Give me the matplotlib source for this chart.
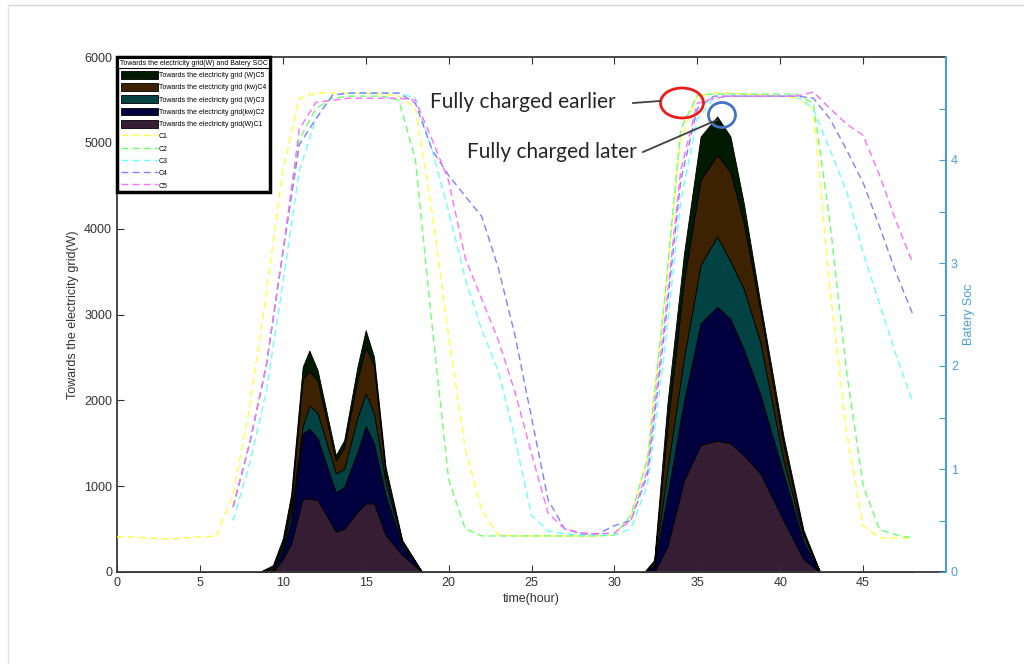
import numpy as np
import matplotlib
matplotlib.use('Agg')
import matplotlib.pyplot as plt
from matplotlib.patches import Ellipse, Patch
from matplotlib.lines import Line2D

plt.rcParams['font.family'] = ['Liberation Sans', 'DejaVu Sans']

# Battery SOC per household, hourly (right axis)
hours = np.arange(0, 49)
nan = np.nan
soc_c1 = [0.34, 0.34, 0.33, 0.32, 0.33, 0.34, 0.35, 0.75, 1.6, 2.7, 3.9, 4.6, 4.65, 4.65, 4.65, 4.65, 4.64, 4.62, 4.5,
          3.5, 2.3, 1.2, 0.6, 0.36, 0.35, 0.35, 0.35, 0.35, 0.35, 0.35, 0.36, 0.55, 1.1, 2.6, 4.2, 4.62, 4.65, 4.65,
          4.64, 4.63, 4.62, 4.6, 4.5, 2.75, 1.36, 0.45, 0.33, 0.33, 0.33]
soc_c2 = [nan] * 7 + [0.63, 1.25, 2.0, 3.1, 4.2, 4.5, 4.6, 4.62, 4.62, 4.62, 4.58, 4.0, 2.4, 0.9, 0.42, 0.35,
                      0.35, 0.35, 0.35, 0.35, 0.35, 0.35, 0.35, 0.36, 0.55, 1.1, 2.6, 4.3, 4.63, 4.64, 4.64, 4.64,
                      4.64, 4.64, 4.64, 4.55, 3.4, 1.95, 0.84, 0.41, 0.36, 0.33]
soc_c3 = [nan] * 7 + [0.5, 1.05, 1.75, 2.8, 3.9, 4.4, 4.63, 4.65, 4.65, 4.65, 4.65, 4.6, 4.1, 3.5, 2.85, 2.35,
                      1.95, 1.3, 0.55, 0.4, 0.37, 0.36, 0.36, 0.36, 0.42, 0.85, 2.1, 3.6, 4.4, 4.6, 4.62, 4.62,
                      4.62, 4.62, 4.62, 4.5, 4.1, 3.7, 3.1, 2.6, 2.1, 1.65]
soc_c4 = [nan] * 7 + [0.63, 1.25, 2.0, 3.1, 4.15, 4.4, 4.63, 4.65, 4.65, 4.65, 4.65, 4.55, 4.1, 3.85, 3.65, 3.45,
                      2.95, 2.3, 1.5, 0.7, 0.42, 0.37, 0.37, 0.45, 0.5, 0.95, 2.3, 3.8, 4.5, 4.62, 4.62, 4.62,
                      4.62, 4.62, 4.62, 4.6, 4.4, 4.1, 3.78, 3.35, 2.9, 2.5]
soc_c5 = [nan] * 7 + [0.63, 1.25, 2.0, 3.1, 4.3, 4.56, 4.58, 4.6, 4.6, 4.6, 4.6, 4.58, 4.2, 3.8, 3.05, 2.65,
                      2.25, 1.75, 1.15, 0.57, 0.42, 0.38, 0.37, 0.38, 0.5, 1.0, 2.4, 3.9, 4.55, 4.6, 4.62, 4.62,
                      4.62, 4.62, 4.62, 4.66, 4.5, 4.35, 4.24, 3.85, 3.4, 3.0]

# Power towards the grid, stacked per household (left axis)
t_power = [0, 8.6, 9.4, 10.0, 10.5, 11.2, 11.6, 12.1, 13.2, 13.7, 14.5, 15.0, 15.5, 16.2, 17.2, 18.4,
           31.8, 32.4, 33.2, 34.2, 35.2, 36.2, 37.0, 37.8, 38.8, 40.2, 41.4, 42.4, 48]
grid_c1 = [0, 0, 0, 150, 330, 855, 855, 840, 470, 505, 700, 800, 800, 430, 200, 0,
           0, 0, 300, 1070, 1480, 1530, 1500, 1360, 1150, 600, 150, 0, 0]
grid_c2 = [0, 0, 20, 100, 270, 755, 815, 720, 460, 485, 700, 900, 700, 470, 110, 0,
           0, 60, 600, 930, 1420, 1560, 1450, 1240, 920, 550, 200, 0, 0]
grid_c3 = [0, 0, 20, 40, 100, 90, 270, 290, 220, 210, 400, 380, 350, 150, 30, 0,
           0, 20, 300, 500, 680, 820, 670, 700, 610, 150, 70, 0, 0]
grid_c4 = [0, 0, 20, 50, 100, 550, 400, 380, 150, 250, 450, 540, 550, 100, 15, 0,
           0, 30, 500, 900, 990, 950, 1040, 770, 370, 180, 40, 0, 0]
grid_c5 = [0, 0, 20, 50, 100, 140, 240, 120, 60, 85, 140, 197, 106, 74, 18, 0,
           0, 30, 270, 315, 504, 447, 414, 230, 85, 97, 30, 0, 0]

area_colors = ['#351d34', '#00003f', '#034242', '#3d2202', '#011a02']
line_colors = ['#ffff40', '#70ff70', '#70ffff', '#8080ff', '#ff70ff']
area_labels = ['Towards the electricity grid(W)C1', 'Towards the electricity grid(kw)C2',
               'Towards the electricity grid (W)C3', 'Towards the electricity grid (kw)C4',
               'Towards the electricity grid (W)C5']
line_labels = ['C1', 'C2', 'C3', 'C4', 'C5']
blue = '#4a9fd8'
txt = '#333333'

fig = plt.figure(figsize=(10.24, 6.64), dpi=100)
ax1 = fig.add_axes([117 / 1024, 1 - 572 / 664, 829 / 1024, 515 / 664])

ax1.stackplot(t_power, grid_c1, grid_c2, grid_c3, grid_c4, grid_c5,
              colors=area_colors, edgecolor='black', linewidth=0.6)
ax1.set_xlim(0, 50)
ax1.set_ylim(0, 6000)
ax1.set_xticks(np.arange(0, 50, 5))
ax1.set_yticks(np.arange(0, 7000, 1000))
ax1.tick_params(direction='in', top=True, length=5, labelsize=9, colors=txt)
ax1.set_xlabel('time(hour)', fontsize=9, color=txt, labelpad=3)
ax1.set_ylabel('Towards the electricity grid(W)', fontsize=9, color=txt)
for s in ax1.spines.values():
    s.set_color('#3a3a3a')
    s.set_linewidth(1.3)

ax2 = ax1.twinx()
for soc, c in zip([soc_c1, soc_c2, soc_c3, soc_c4, soc_c5], line_colors):
    ax2.plot(hours, soc, color=c, linewidth=1.0, dashes=(5, 3))
ax2.set_ylim(0, 5)
ax2.set_yticks(np.arange(0, 5, 0.5))
ax2.set_yticklabels(['0', '', '1', '', '2', '', '3', '', '4', ''])
ax2.tick_params(direction='in', length=5, labelsize=9, colors=blue)
ax2.set_ylabel('Batery Soc', fontsize=9, color=blue)
ax2.spines['right'].set_color(blue)
ax2.spines['right'].set_linewidth(1.5)
for k in ['left', 'top', 'bottom']:
    ax2.spines[k].set_visible(False)

handles = [Patch(facecolor=c, edgecolor='black', linewidth=0.6) for c in area_colors[::-1]]
handles += [Line2D([], [], color=c, linewidth=1.0, dashes=(5, 3)) for c in line_colors]
labels = area_labels[::-1] + line_labels
leg = ax2.legend(handles, labels, loc='upper left', bbox_to_anchor=(0, 1), borderaxespad=0,
                 fontsize=5, title='Towards the electricity grid(W) and Batery SOC', title_fontsize=5,
                 fancybox=False, edgecolor='black', framealpha=1, handlelength=5.3, handleheight=1.3,
                 labelspacing=0.6, borderpad=0.4, handletextpad=0.1)
leg.get_frame().set_linewidth(2.5)
leg.get_title().set_bbox(dict(facecolor='white', edgecolor='black', linewidth=0.8, pad=1.2))

# annotations
fig.text(430 / 1024, 1 - 102 / 664, 'Fully charged earlier', fontsize=15, family='Lato',
         color='#262626', va='center', ha='left')
fig.text(467 / 1024, 1 - 152 / 664, 'Fully charged later', fontsize=15, family='Lato',
         color='#262626', va='center', ha='left')
fig.add_artist(Line2D([633 / 1024, 660 / 1024], [1 - 103 / 664, 1 - 101 / 664], color='#404040', lw=1.3))
fig.add_artist(Line2D([643 / 1024, 717 / 1024], [1 - 152 / 664, 1 - 120 / 664], color='#404040', lw=1.3))
fig.add_artist(Ellipse((682 / 1024, 1 - 103 / 664), 43 / 1024, 30 / 664, transform=fig.transFigure,
                       fill=False, edgecolor='#ee1c1c', linewidth=2))
fig.add_artist(Ellipse((722 / 1024, 1 - 115 / 664), 27 / 1024, 25 / 664, transform=fig.transFigure,
                       fill=False, edgecolor='#4472c4', linewidth=2))

# screenshot frame
fig.add_artist(Line2D([8 / 1024, 1], [1 - 5 / 664, 1 - 5 / 664], color='#d4d4d4', lw=1))
fig.add_artist(Line2D([8 / 1024, 8 / 1024], [0, 1 - 5 / 664], color='#e4e4e4', lw=1))

fig.savefig('out.png', dpi=100)
